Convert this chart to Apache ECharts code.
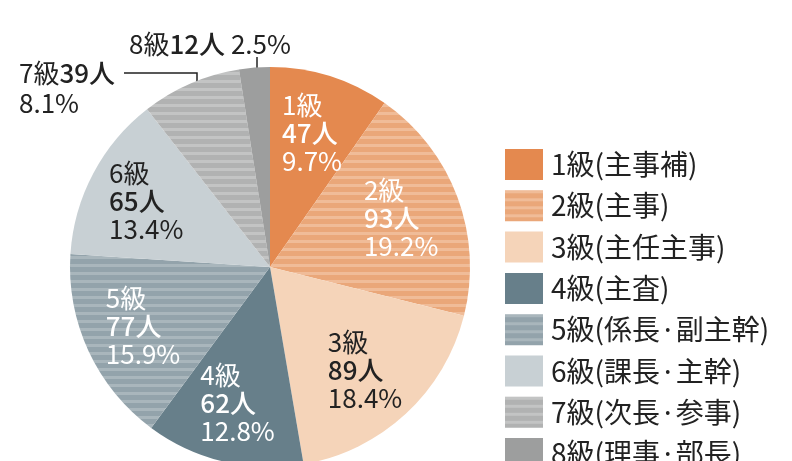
<!DOCTYPE html>
<html>
<head>
<meta charset="utf-8">
<script src="https://cdn.jsdelivr.net/npm/echarts@6/dist/echarts.min.js"></script>
<style>
  html, body { margin: 0; padding: 0; background: #fff; }
  #main { width: 792px; height: 461px; }
</style>
</head>
<body>
<div id="main"></div>
<script>
// data
const grades = ["1級", "2級", "3級", "4級", "5級", "6級", "7級", "8級"];
const roles = ["主事補", "主事", "主任主事", "主査", "係長·副主幹", "課長·主幹", "次長·参事", "理事·部長"];
const counts = [47, 93, 89, 62, 77, 65, 39, 12];

// 色（縞模様は2,5,7級）
const baseColors = ["#E4894F", "#EAA779", "#F5D4B9", "#677F8A", "#93A3AB", "#C8D0D4", "#B1B2B2", "#9D9E9E"];
const stripeColors = [null, "#F0BC98", null, null, "#A9B6BC", null, "#C3C4C4", null];
const darkText = [false, false, true, false, false, true, true, true];

function stripe(base, light) {
  const c = document.createElement("canvas");
  c.width = 8;
  c.height = 8;
  const ctx = c.getContext("2d");
  ctx.fillStyle = base;
  ctx.fillRect(0, 0, 8, 8);
  ctx.fillStyle = light;
  ctx.fillRect(0, 0, 8, 3);
  return { image: c, repeat: "repeat" };
}

const fills = baseColors.map((b, i) => (stripeColors[i] ? stripe(b, stripeColors[i]) : b));
const total = counts.reduce((a, b) => a + b, 0);
const pct = (v) => ((v / total) * 100).toFixed(1) + "%";

const font = "'Noto Sans CJK JP', 'Noto Sans', sans-serif";
const fs = 26;

var myChart = echarts.init(document.getElementById("main"));
var option = {
  animation: false,
  textStyle: { fontFamily: font },
  legend: {
    orient: "vertical",
    left: 500,
    top: 144,
    height: 400,
    itemWidth: 38,
    itemHeight: 31,
    itemGap: 10.3,
    icon: "rect",
    data: grades,
    selectedMode: false,
    formatter: (name) => name + "(" + roles[grades.indexOf(name)] + ")",
    textStyle: { fontSize: 28, lineHeight: 31, color: "#222", fontFamily: font, padding: [0, 0, 0, 3] },
  },
  series: [
    {
      // 本体の円
      type: "pie",
      center: [270, 267],
      radius: 200,
      startAngle: 90,
      silent: true,
      itemStyle: { borderWidth: 0 },
      data: grades.map((g, i) => ({
        name: g,
        value: counts[i],
        itemStyle: { color: fills[i] },
        label: { show: i >= 6 },
        labelLine: { show: i >= 6 },
      })),
      label: {
        position: "outside",
        overflow: "none",
        color: "#222",
        fontSize: fs,
        lineHeight: 30,
        formatter: (p) => {
          const i = p.dataIndex;
          if (i === 7) return "{n|" + grades[i] + "}{b|" + counts[i] + "人}{n| " + pct(counts[i]) + "}";
          return "{n|" + grades[i] + "}{b|" + counts[i] + "人}\n{n|" + pct(counts[i]) + "}";
        },
        rich: {
          n: { fontSize: fs, color: "#222", align: "left", fontFamily: font, lineHeight: 30 },
          b: { fontSize: fs, color: "#222", fontWeight: 500, align: "left", fontFamily: font, lineHeight: 30 },
        },
      },
      labelLine: { lineStyle: { color: "#222", width: 1.5 } },
      labelLayout: (p) => {
        if (p.dataIndex === 7) {
          return {
            x: 129, y: 29, align: "left", verticalAlign: "top",
            labelLinePoints: [[257, 79], [257, 57], [257, 57]],
          };
        }
        if (p.dataIndex === 6) {
          return {
            x: 19, y: 58, align: "left", verticalAlign: "top",
            labelLinePoints: [[197, 93], [197, 73], [124, 73]],
          };
        }
      },
    },
    {
      // ラベル用の透明リング
      type: "pie",
      center: [270, 267],
      radius: [74, 200],
      startAngle: 90,
      silent: true,
      legendHoverLink: false,
      itemStyle: { color: "transparent" },
      emphasis: { disabled: true },
      labelLine: { show: false },
      data: grades.map((g, i) => ({
        name: g,
        value: counts[i],
        label: { show: i < 6 },
      })),
      label: {
        position: "inside",
        formatter: (p) => {
          const i = p.dataIndex;
          const k = darkText[i] ? "d" : "w";
          return "{" + k + "|" + grades[i] + "}\n{" + k + "b|" + counts[i] + "人}\n{" + k + "|" + pct(counts[i]) + "}";
        },
        rich: {
          w: { color: "#fff", fontSize: fs, lineHeight: 28, align: "left", fontFamily: font },
          wb: { color: "#fff", fontSize: fs, lineHeight: 28, align: "left", fontWeight: 500, fontFamily: font },
          d: { color: "#222", fontSize: fs, lineHeight: 28, align: "left", fontFamily: font },
          db: { color: "#222", fontSize: fs, lineHeight: 28, align: "left", fontWeight: 500, fontFamily: font },
        },
      },
    },
  ],
};
option && myChart.setOption(option);
window.addEventListener("resize", function () {
  myChart.resize();
});
</script>
</body>
</html>
